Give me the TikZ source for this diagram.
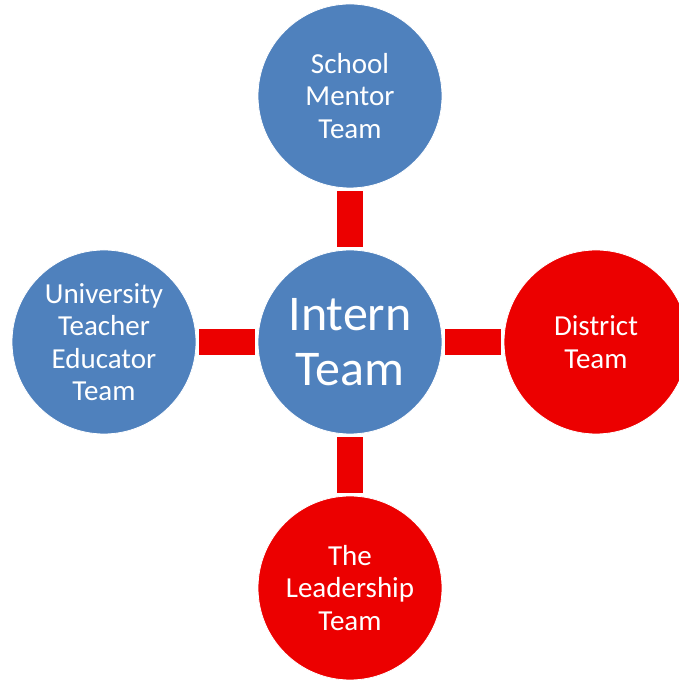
\documentclass[tikz,border=0pt]{standalone}
\usepackage{fontspec}
\setmainfont{Carlito}
\usetikzlibrary{positioning}
\definecolor{teamblue}{RGB}{79,129,189}
\definecolor{teamred}{RGB}{236,0,0}

\begin{document}
\begin{tikzpicture}[x=1pt,y=1pt,node distance=246pt,
  main node/.style={circle,draw=white,line width=0.8pt,minimum size=184pt,inner sep=0pt,
    align=center,text=white,font=\fontsize{29}{32.5}\selectfont},
  blue node/.style={main node,fill=teamblue},
  red node/.style={main node,fill=teamred},
  bar/.style={draw=teamred,line width=26pt,shorten >=3pt,shorten <=3pt}]

  \clip (0,0) rectangle (679,680);

  \node[blue node,font=\fontsize{50}{55}\selectfont] (Intern) at (350,338) {Intern\\Team};
  \node[blue node] (Mentor)[above of=Intern]{School\\Mentor\\Team};
  \node[blue node] (University)[left of=Intern]{University\\Teacher\\Educator\\Team};
  \node[red node] (District)[right of=Intern]{District\\Team};
  \node[red node] (Leadership)[below of=Intern]{The\\Leadership\\Team};

  \path[bar]
	(Intern) edge (Mentor)
	(Intern) edge (University)
	(Intern) edge (District)
	(Intern) edge (Leadership)
	;

\end{tikzpicture}
\end{document}
